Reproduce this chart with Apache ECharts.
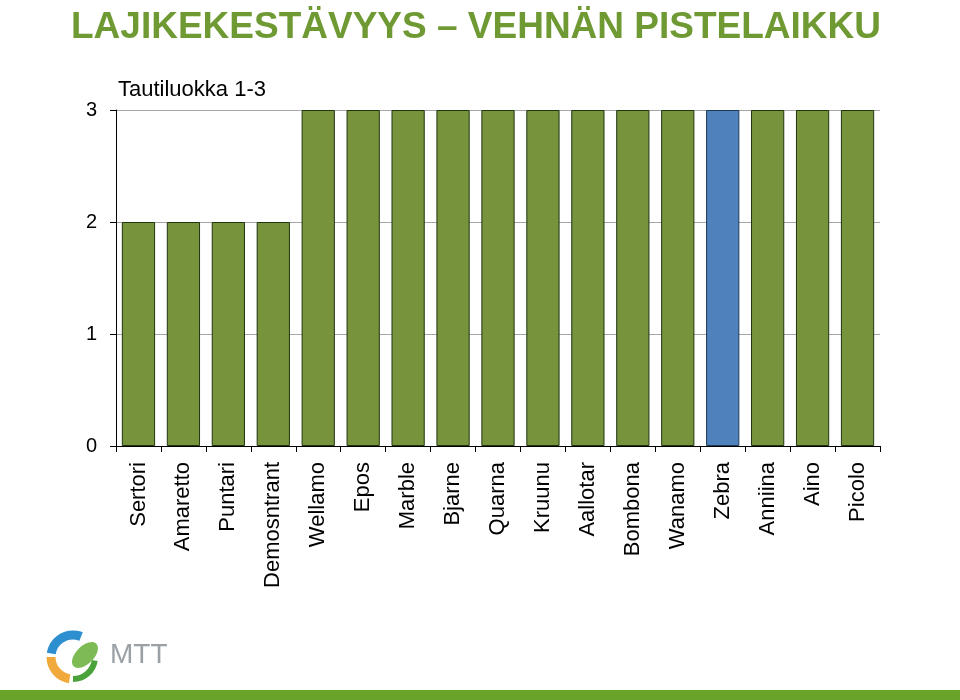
<!DOCTYPE html>
<html><head><meta charset="utf-8">
<script src="https://cdn.jsdelivr.net/npm/echarts@6/dist/echarts.min.js"></script>
<style>html,body{margin:0;padding:0;background:#fff}#c{width:960px;height:700px}</style>
</head><body><div id="c"></div>
<script>
var categories = ["Sertori","Amaretto","Puntari","Demosntrant","Wellamo","Epos","Marble","Bjarne","Quarna","Kruunu","Aallotar","Bombona","Wanamo","Zebra","Anniina","Aino","Picolo"];
var values = [2,2,2,2,3,3,3,3,3,3,3,3,3,3,3,3,3];
var highlighted = ["Zebra"];
var yTicks = [0,1,2,3];

var chart = echarts.init(document.getElementById('c'));
var data = values.map(function(v,i){
  var hl = highlighted.indexOf(categories[i]) >= 0;
  return {value:v, itemStyle:{color: hl ? '#4f81bd' : '#77933c', borderColor: hl ? '#1d3b57' : '#1f3510'}};
});
chart.setOption({
  animation:false,
  backgroundColor:'#fff',
  title:{text:'LAJIKEKESTÄVYYS – VEHNÄN PISTELAIKKU', left:471, textAlign:'center', top:4,
    textStyle:{fontFamily:'Liberation Sans, Arial', fontWeight:'bold', fontSize:37, color:'#6f9a33'}},
  grid:{left:116, right:80, top:110, bottom:254},
  xAxis:{type:'category', data:categories,
    axisLine:{lineStyle:{color:'#000', width:1}},
    axisTick:{show:true, length:6, lineStyle:{color:'#000'}},
    axisLabel:{rotate:90, fontFamily:'Liberation Sans, Arial', fontSize:22, color:'#000', margin:16}},
  yAxis:{type:'value', min:0, max:3, interval:1,
    axisLine:{show:true, lineStyle:{color:'#000'}},
    axisTick:{show:true, length:6, lineStyle:{color:'#000'}},
    splitLine:{lineStyle:{color:'#a6a6a6'}},
    axisLabel:{fontFamily:'Liberation Sans, Arial', fontSize:20, color:'#000', margin:19,
      formatter:function(v){return yTicks.indexOf(v)>=0 ? String(v) : '';}}},
  series:[{type:'bar', data:data, barCategoryGap:'26%', itemStyle:{borderWidth:1}}],
  graphic:[
    {type:'text', left:118, top:79, style:{text:'Tautiluokka 1-3', font:'22px Liberation Sans, Arial', fill:'#000'}},
    {type:'rect', shape:{x:0,y:690,width:960,height:10}, style:{fill:'#6aa329'}},
    {type:'arc', shape:{cx:73, cy:657, r:22, startAngle:Math.PI*1.05, endAngle:Math.PI*1.62}, style:{stroke:'#2e8fd0', lineWidth:9, fill:null}},
    {type:'arc', shape:{cx:73, cy:657, r:22, startAngle:Math.PI*0.55, endAngle:Math.PI*1.0}, style:{stroke:'#f2a93b', lineWidth:9, fill:null}},
    {type:'arc', shape:{cx:73, cy:657, r:22, startAngle:Math.PI*0.05, endAngle:Math.PI*0.5}, style:{stroke:'#4aa23a', lineWidth:6, fill:null}},
    {type:'ellipse', shape:{cx:85, cy:655, rx:16, ry:9}, rotation:Math.PI/4, originX:85, originY:655, style:{fill:'#7dbb55'}},
    {type:'text', left:110, top:641, style:{text:'MTT', font:'28px Liberation Sans, Arial', fill:'#9aa1a6'}}
  ]
});
</script></body></html>
